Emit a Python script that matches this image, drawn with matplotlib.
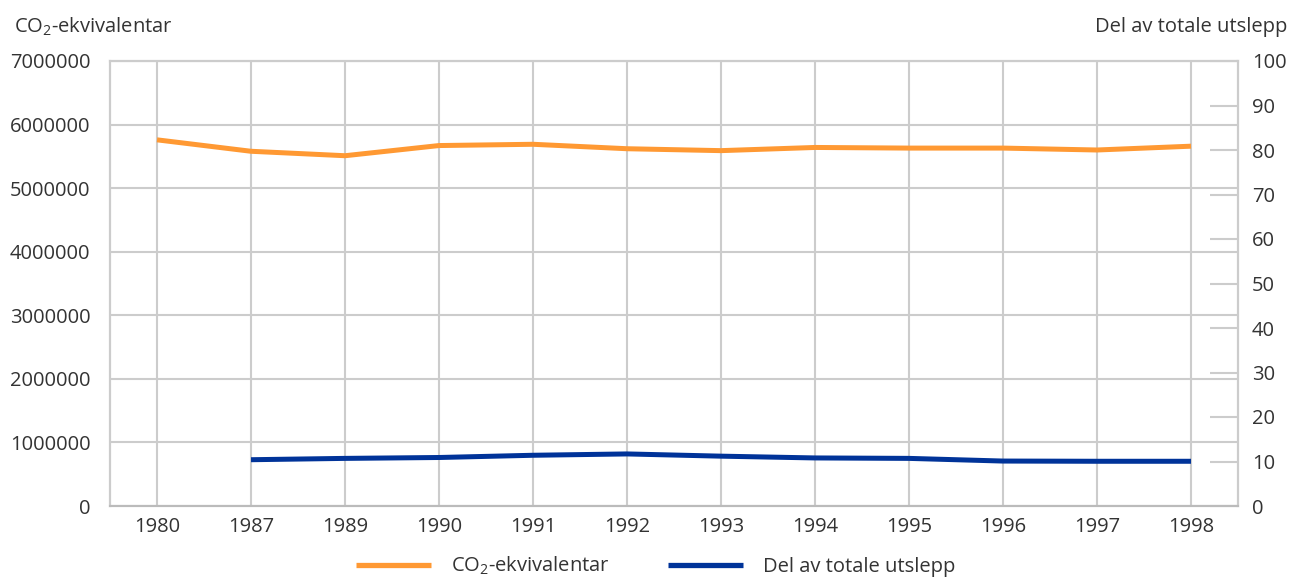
import matplotlib.pyplot as plt
import numpy as np

plt.rcParams['font.family'] = ['Open Sans', 'DejaVu Sans']
plt.rcParams['mathtext.fontset'] = 'custom'
plt.rcParams['mathtext.rm'] = 'Open Sans'

years = ['1980', '1987', '1989', '1990', '1991', '1992', '1993', '1994', '1995', '1996', '1997', '1998']
co2 = [5760000, 5580000, 5510000, 5670000, 5690000, 5620000, 5590000, 5640000, 5630000, 5630000, 5600000, 5660000]
share = [np.nan, 10.4, 10.7, 10.9, 11.4, 11.7, 11.2, 10.8, 10.7, 10.1, 10.05, 10.05]

grid_c = '#cccccc'
text_c = '#333333'
orange = '#ff9933'
blue = '#003399'
fs = 14.5

fig = plt.figure(figsize=(12.91, 5.81), dpi=100)
ax = fig.add_axes([110 / 1291, 1 - 506 / 581, 1128 / 1291, 445 / 581])
ax2 = ax.twinx()

x = np.arange(len(years))
ax.plot(x, co2, color=orange, lw=3.6, solid_capstyle='butt', zorder=3)
ax2.plot(x, share, color=blue, lw=3.6, solid_capstyle='butt', zorder=3)

ax.set_xlim(-0.5, len(years) - 0.5)
ax.set_ylim(0, 7000000)
ax.set_yticks(np.arange(0, 7000001, 1000000))
ax.set_yticklabels([str(v) for v in range(0, 7000001, 1000000)])
ax.set_xticks(x)
ax.set_xticklabels(years)
ax.grid(True, color=grid_c, lw=1.5)
ax.set_axisbelow(True)
ax.tick_params(axis='y', length=0, pad=14, labelsize=fs, labelcolor=text_c)
ax.tick_params(axis='x', length=0, pad=8, labelsize=fs, labelcolor=text_c)

ax2.set_ylim(0, 100)
ax2.set_yticks(range(0, 101, 10))
ax2.tick_params(axis='y', direction='in', length=20, width=1.5, color=grid_c,
                pad=10, labelsize=fs, labelcolor=text_c)

for a in (ax, ax2):
    for s in a.spines.values():
        s.set_color(grid_c)
        s.set_linewidth(1.5)
ax.spines['bottom'].set_color('#bbbbbb')
ax2.spines['bottom'].set_color('#bbbbbb')

fig.text(14 / 1291, 1 - 27 / 581, r'CO$_\mathregular{2}$-ekvivalentar', fontsize=fs,
         color=text_c, ha='left', va='center')
fig.text(1287 / 1291, 1 - 27 / 581, 'Del av totale utslepp', fontsize=fs,
         color=text_c, ha='right', va='center')

h1, = ax.plot([], [], color=orange, lw=3.8, solid_capstyle='butt')
h2, = ax.plot([], [], color=blue, lw=3.8, solid_capstyle='butt')
leg = fig.legend([h1, h2], [r'CO$_\mathregular{2}$-ekvivalentar', 'Del av totale utslepp'],
                 loc='center', bbox_to_anchor=(0.508, 0.026), ncol=2, frameon=False,
                 fontsize=fs, handlelength=3.7, handletextpad=1.0, columnspacing=2.9)
for t in leg.get_texts():
    t.set_color(text_c)

fig.savefig('out.png', dpi=100)
